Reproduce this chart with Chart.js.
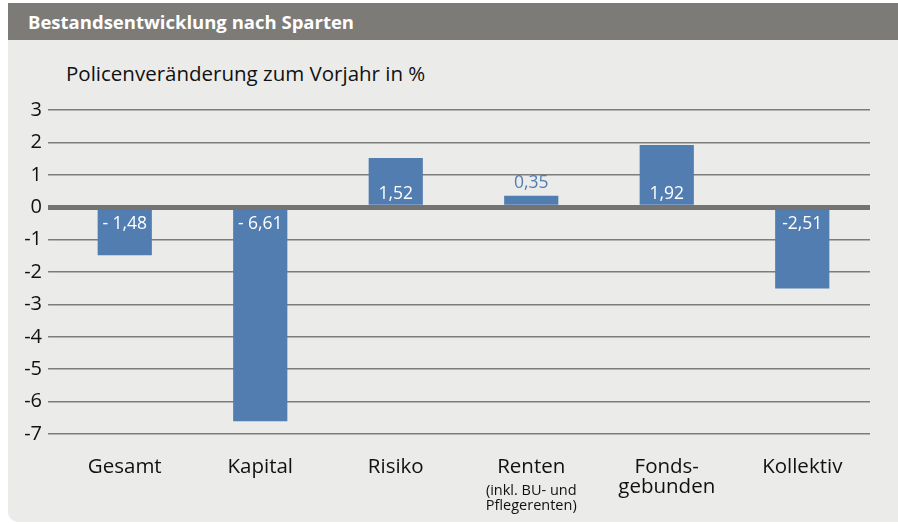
<!DOCTYPE html>
<html>
<head>
<meta charset="utf-8">
<script src="https://cdn.jsdelivr.net/npm/chart.js@4"></script>
<style>
  html, body { margin: 0; padding: 0; background: #fff; }
  #wrap { position: absolute; left: 8px; top: 3px; width: 890px; height: 519px;
          background: #ebebea; border-bottom-left-radius: 10px; overflow: hidden; }
  #head { height: 37px; background: #7c7b78; color: #fff; font: bold 18.5px "Open Sans", sans-serif;
          line-height: 37px; padding-left: 20px; }
  #sub { position: absolute; left: 58px; top: 56px; font: 20.5px "Open Sans", sans-serif; color: #111; }
  #c { position: absolute; left: 0; top: 0; }
</style>
</head>
<body>
<div id="wrap">
  <div id="head">Bestandsentwicklung nach Sparten</div>
  <div id="sub">Policenveränderung zum Vorjahr in %</div>
</div>
<canvas id="c" width="898" height="524"></canvas>
<script>
const categories = ['Gesamt', 'Kapital', 'Risiko', 'Renten', 'Fonds-\ngebunden', 'Kollektiv'];
const subLabels = ['', '', '', '(inkl. BU- und\nPflegerenten)', '', ''];
const values = [-1.48, -6.61, 1.52, 0.35, 1.92, -2.51];
const valueLabels = ['- 1,48', '- 6,61', '1,52', '0,35', '1,92', '-2,51'];
const yMin = -7, yMax = 3;

const barColor = '#527db1';
const font = '"Open Sans", sans-serif';

// Beschriftungen in/über den Balken
const valuePlugin = {
    id: 'valueLabels',
    afterDatasetsDraw(chart) {
        const ctx = chart.ctx;
        const y0 = chart.scales.y.getPixelForValue(0);
        ctx.save();
        ctx.font = '17.5px ' + font;
        ctx.textAlign = 'center';
        ctx.textBaseline = 'middle';
        chart.getDatasetMeta(0).data.forEach((bar, i) => {
            const v = values[i];
            const h = Math.abs(bar.y - y0);
            let y;
            if (v < 0) {
                ctx.fillStyle = '#fff';
                y = y0 + 17;
            } else if (h > 28) {
                ctx.fillStyle = '#fff';
                y = y0 - 13;
            } else {
                ctx.fillStyle = barColor;
                y = bar.y - 13;
            }
            ctx.fillText(valueLabels[i], bar.x, y);
        });
        ctx.restore();
    }
};

// Kategorien unter dem Diagramm
const catPlugin = {
    id: 'catLabels',
    afterDraw(chart) {
        const ctx = chart.ctx;
        const xs = chart.scales.x;
        ctx.save();
        ctx.textAlign = 'center';
        ctx.textBaseline = 'middle';
        ctx.fillStyle = '#111';
        categories.forEach((c, i) => {
            const x = xs.getPixelForValue(i);
            let y = 467;
            ctx.font = '20.5px ' + font;
            c.split('\n').forEach(line => {
                ctx.fillText(line, x, y);
                y += 20;
            });
            if (subLabels[i]) {
                ctx.font = '14.5px ' + font;
                let sy = 491;
                subLabels[i].split('\n').forEach(line => {
                    ctx.fillText(line, x, sy);
                    sy += 15;
                });
            }
        });
        ctx.restore();
    }
};

new Chart(document.getElementById('c'), {
    type: 'bar',
    data: {
        labels: categories,
        datasets: [{
            data: values,
            backgroundColor: barColor,
            barPercentage: 0.8,
            categoryPercentage: 0.5
        }]
    },
    options: {
        responsive: false,
        animation: false,
        layout: { padding: { top: 110, bottom: 90, right: 28, left: 0 } },
        plugins: { legend: { display: false }, tooltip: { enabled: false } },
        scales: {
            x: { display: false },
            y: {
                min: yMin,
                max: yMax,
                afterFit(s) { s.width = 57; },
                border: { display: false },
                ticks: { stepSize: 1, color: '#111', padding: 6, font: { size: 20, family: font } },
                grid: {
                    color: c => c.tick && c.tick.value === 0 ? '#737373' : '#7d7d7d',
                    tickLength: 9,
                    lineWidth: c => c.tick && c.tick.value === 0 ? 5 : 1.5,
                    z: 0
                }
            }
        }
    },
    plugins: [valuePlugin, catPlugin]
});
</script>
</body>
</html>
